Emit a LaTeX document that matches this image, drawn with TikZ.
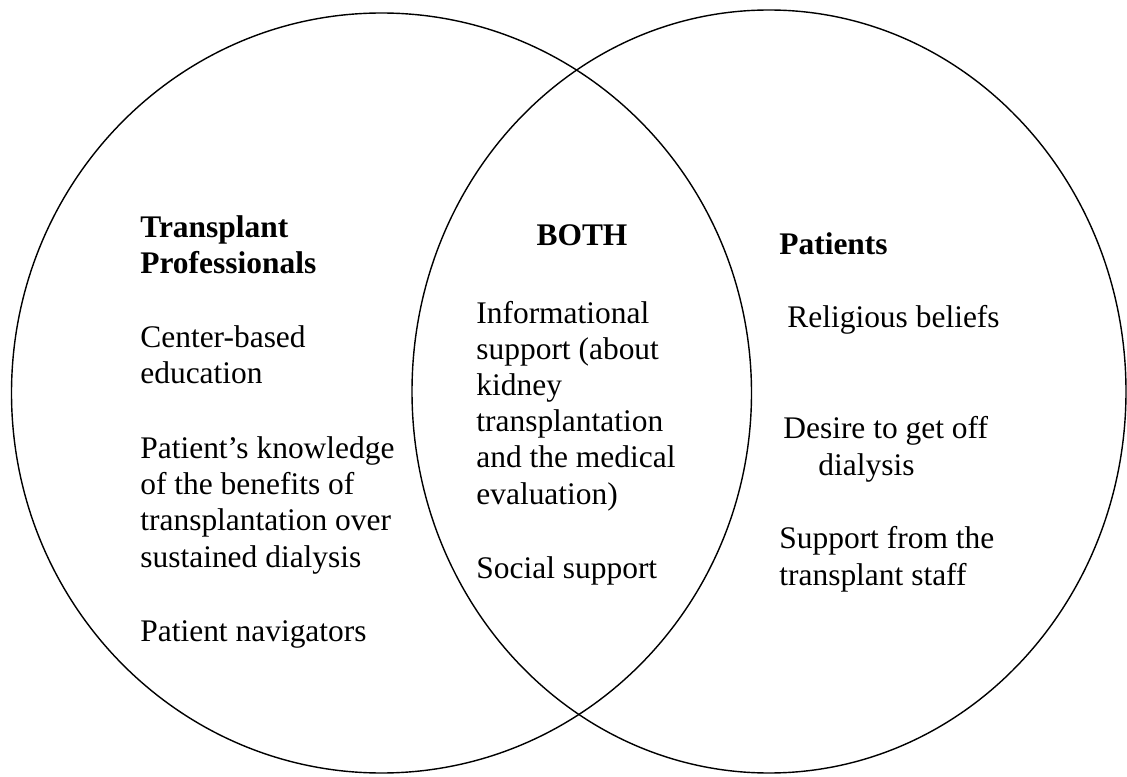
\documentclass[tikz,border=0pt]{standalone}
\usepackage{fontspec}
\setmainfont{Liberation Serif}
\usepackage{tikz}
\usetikzlibrary{positioning}

\tikzset{
    item/.style={anchor=base west, align=left, inner sep=0pt,
        font=\fontsize{17.9pt}{20.5pt}\selectfont},
    head/.style={item, font=\fontsize{17.9pt}{20.5pt}\selectfont\bfseries}
}

\begin{document}
\begin{tikzpicture}

    \useasboundingbox (0cm,0cm) rectangle (22.54cm,15.52cm);

    % Circles
    \draw[line width=0.8pt] (7.63cm,7.66cm) ellipse (7.40cm and 7.60cm);
    \draw[line width=0.8pt] (15.38cm,7.69cm) ellipse (7.14cm and 7.63cm);

    % Left (placed at the baseline of the last line)
    \node[head] (prohead) at (2.80cm, 10.04cm) {Transplant\\Professionals};
    \node[item] (center) at (2.80cm, 7.84cm) {Center-based\\education};
    \node[item] (knowledge) at (2.80cm, 4.18cm) {Patient’s knowledge\\of the benefits of\\transplantation over\\sustained dialysis};
    \node[item] (navigators) at (2.80cm, 2.70cm) {Patient navigators};

    % Middle
    \node[head, anchor=base] (bothhead) at (11.64cm, 10.60cm) {BOTH};
    \node[item] (info) at (9.52cm, 5.44cm) {Informational\\support (about\\kidney\\transplantation\\and the medical\\evaluation)};
    \node[item] (social) at (9.52cm, 3.96cm) {Social support};

    % Right
    \node[head] (pathead) at (15.58cm, 10.42cm) {Patients};
    \node[item] (religious) at (15.74cm, 8.96cm) {Religious beliefs};
    \node[item] (desire) at (15.66cm, 6.02cm) {Desire to get off\\\hspace*{0.7cm}dialysis};
    \node[item] (staff) at (15.58cm, 3.82cm) {Support from the\\transplant staff};

\end{tikzpicture}
\end{document}
